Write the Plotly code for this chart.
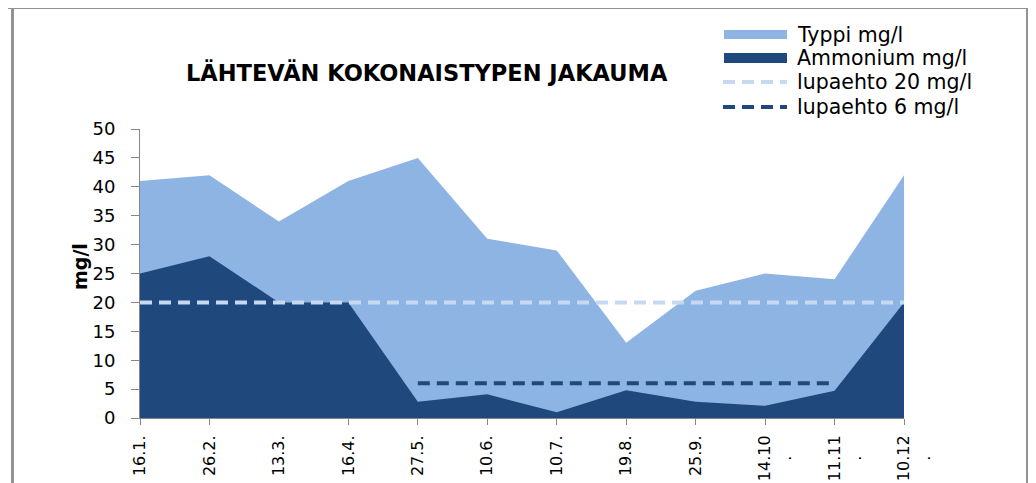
import plotly.graph_objects as go

# ---- data ----
dates = ["16.1.", "26.2.", "13.3.", "16.4.", "27.5.", "10.6.", "10.7.",
         "19.8.", "25.9.", "14.10.", "11.11.", "10.12."]
typpi = [41, 42, 34, 41, 45, 31, 29, 13, 22, 25, 24, 42]
ammonium = [25, 28, 20, 20, 2.8, 4.1, 1.0, 4.8, 2.8, 2.1, 4.7, 20]
lupa20 = [20] * 12
lupa6 = [None, None, None, None, 6, 6, 6, 6, 6, 6, 6, None]
names = ["Typpi mg/l", "Ammonium mg/l", "lupaehto 20 mg/l", "lupaehto 6 mg/l"]
title = "LÄHTEVÄN KOKONAISTYPEN JAKAUMA"
ytitle = "mg/l"
yticks = [0, 5, 10, 15, 20, 25, 30, 35, 40, 45, 50]

LIGHT = "#8db4e2"
DARK = "#1f497d"
PALE = "#c6d9f1"
FONT = "DejaVu Sans"

# page offset of the figure inside the browser (body margin)
OX, OY = 8, 8
SW, SH = 1036, 483           # screen size
W, H = SW - OX, SH - OY      # figure size
# plot area in screen pixels
SL, SR, ST, SB = 140, 904, 129, 418
L, R, T, B = SL - OX, SR - OX, ST - OY, SB - OY


def px(x):
    """screen x pixel -> paper coordinate"""
    return (x - SL) / (SR - SL)


def py(y):
    """screen y pixel -> paper coordinate"""
    return (SB - y) / (SB - ST)


idx = list(range(len(dates)))


def wrap(lbl):
    # long labels wrap their final dot onto a second line
    if len(lbl) > 5:
        return "\u00a0<br>" + lbl[:-1] + "<br>.\u00a0\u00a0\u00a0\u00a0"
    return lbl


fig = go.Figure()
fig.add_trace(go.Scatter(x=idx, y=typpi, name=names[0], mode="lines",
                         fill="tozeroy", fillcolor=LIGHT,
                         line=dict(width=0, color=LIGHT), showlegend=False))
fig.add_trace(go.Scatter(x=idx, y=ammonium, name=names[1], mode="lines",
                         fill="tozeroy", fillcolor=DARK,
                         line=dict(width=0, color=DARK), showlegend=False))
fig.add_trace(go.Scatter(x=idx, y=lupa20, name=names[2], mode="lines",
                         line=dict(width=4, color=PALE, dash="12px,7px"),
                         showlegend=False))
fig.add_trace(go.Scatter(x=idx, y=lupa6, name=names[3], mode="lines",
                         line=dict(width=4, color=DARK, dash="12px,7px"),
                         showlegend=False, connectgaps=False))
# invisible trace on the overlay axis carrying tick marks
fig.add_trace(go.Scatter(x=idx, y=[None] * len(idx), xaxis="x2",
                         showlegend=False, hoverinfo="skip"))

fig.update_layout(
    width=W, height=H, autosize=False,
    margin=dict(l=L, r=W - R, t=T, b=H - B, pad=0),
    paper_bgcolor="white", plot_bgcolor="white",
    font=dict(family=FONT, color="#000000"),
    showlegend=False,
    xaxis=dict(range=[0, len(dates) - 1], tickvals=idx,
               ticktext=[wrap(d) for d in dates], tickangle=-90,
               tickfont=dict(size=16, family=FONT, color="#000"),
               showgrid=False, zeroline=False, showline=True,
               linecolor="#868686", linewidth=1, ticks="",
               ticklabelstandoff=10, automargin=False),
    xaxis2=dict(range=[0, len(dates) - 1], overlaying="x",
                tickvals=[i for i, d in enumerate(dates) if d != "13.3."],
                showticklabels=False, ticks="outside", ticklen=6,
                tickcolor="#868686", showgrid=False, zeroline=False,
                showline=False, side="bottom", anchor="y",
                automargin=False),
    yaxis=dict(range=[0, 50], tickvals=yticks,
               tickfont=dict(size=18, family=FONT, color="#000"),
               showgrid=False, zeroline=False, showline=True,
               linecolor="#868686", linewidth=1, ticks="outside",
               ticklen=8, tickcolor="#868686", ticklabelstandoff=12,
               automargin=False),
)

shapes = []
anns = []
# frame lines
shapes.append(dict(type="line", xref="paper", yref="paper",
                   x0=px(12.5), x1=px(12.5), y0=py(0), y1=py(SH),
                   line=dict(color="#939393", width=3)))
shapes.append(dict(type="line", xref="paper", yref="paper",
                   x0=px(1027.5), x1=px(1027.5), y0=py(0), y1=py(SH),
                   line=dict(color="#939393", width=3)))
shapes.append(dict(type="line", xref="paper", yref="paper",
                   x0=px(0), x1=px(1027.5), y0=py(7.5), y1=py(7.5),
                   line=dict(color="#939393", width=3)))

# manual legend
leg_y = [34.5, 58, 82, 107]
shapes.append(dict(type="rect", xref="paper", yref="paper",
                   x0=px(724), x1=px(787), y0=py(39), y1=py(30),
                   fillcolor=LIGHT, line=dict(width=0)))
shapes.append(dict(type="rect", xref="paper", yref="paper",
                   x0=px(724), x1=px(787), y0=py(63), y1=py(53),
                   fillcolor=DARK, line=dict(width=0)))
shapes.append(dict(type="line", xref="paper", yref="paper",
                   x0=px(723), x1=px(787), y0=py(leg_y[2]), y1=py(leg_y[2]),
                   line=dict(color=PALE, width=4, dash="12px,7px")))
shapes.append(dict(type="line", xref="paper", yref="paper",
                   x0=px(723), x1=px(787), y0=py(leg_y[3]), y1=py(leg_y[3]),
                   line=dict(color=DARK, width=4, dash="12px,7px")))
for nm, yy in zip(names, leg_y):
    anns.append(dict(text=nm, xref="paper", yref="paper", x=px(795),
                     y=py(yy), xanchor="left", yanchor="middle",
                     showarrow=False, font=dict(size=20.5, family=FONT,
                                                color="#000")))

anns.append(dict(text="<b>" + title + "</b>", xref="paper", yref="paper",
                 x=px(427), y=py(72), xanchor="center", yanchor="middle",
                 showarrow=False,
                 font=dict(size=22.5, family=FONT, color="#000")))
anns.append(dict(text="<b>" + ytitle + "</b>", xref="paper", yref="paper",
                 x=px(80), y=py(267), xanchor="center", yanchor="middle",
                 textangle=-90, showarrow=False,
                 font=dict(size=19, family=FONT, color="#000")))

fig.update_layout(shapes=shapes, annotations=anns)
fig.write_html("out.html")
